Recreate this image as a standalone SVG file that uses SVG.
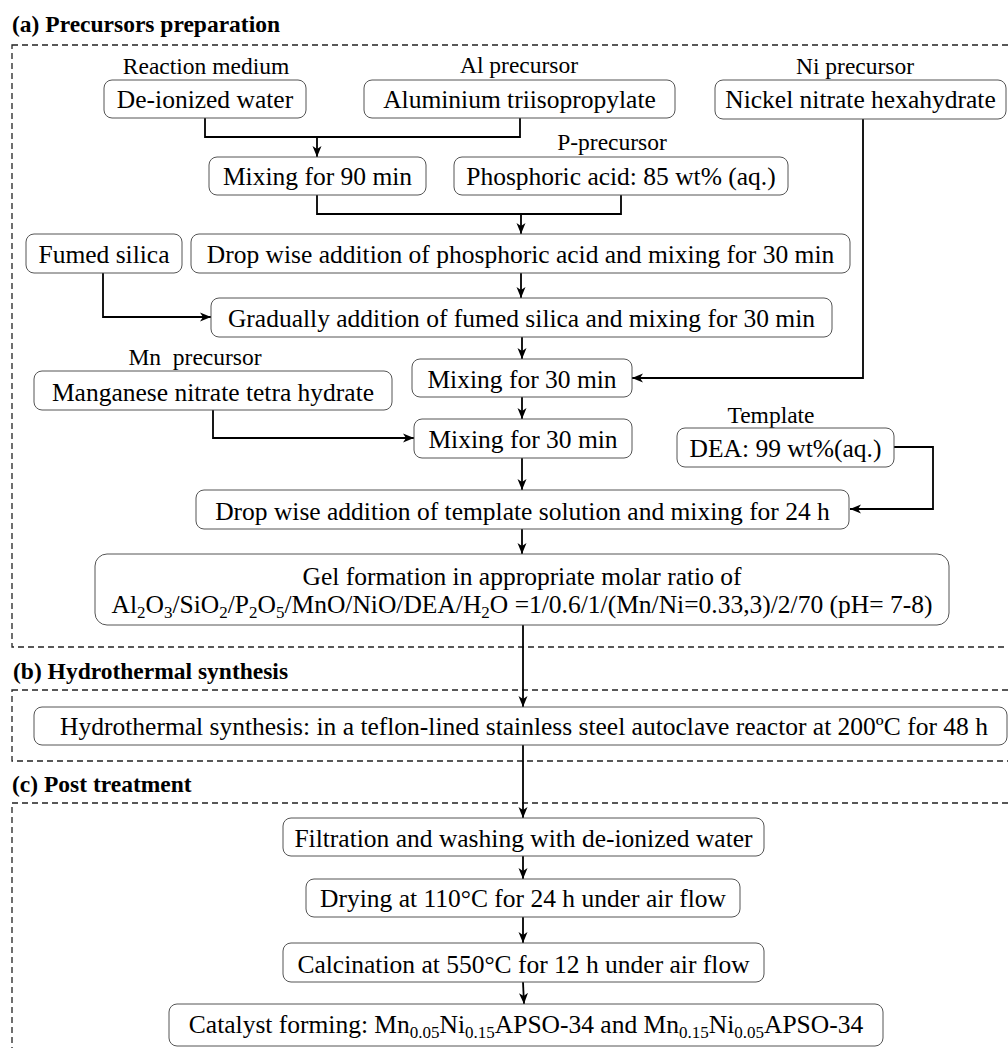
<svg xmlns="http://www.w3.org/2000/svg" width="1008" height="1048" viewBox="0 0 1008 1048">
<defs>
<marker id="ah" markerWidth="12" markerHeight="10" refX="11" refY="5" orient="auto" markerUnits="userSpaceOnUse">
<path d="M0,0.5 L11,5 L0,9.5 L3,5 z" fill="#000"/>
</marker>
<style>
.sec{fill:none;stroke:#222;stroke-width:1.3;stroke-dasharray:6,4}
.bx{fill:#fff;stroke:#555;stroke-width:1}
.t{font-family:"Liberation Serif","Times New Roman",serif;font-size:25.5px;fill:#000;text-anchor:middle}
.lb{font-family:"Liberation Serif","Times New Roman",serif;font-size:23.5px;fill:#000;text-anchor:middle}
.hd{font-family:"Liberation Serif","Times New Roman",serif;font-size:23.5px;font-weight:bold;fill:#000}
.sub{font-size:17px}
.c{fill:none;stroke:#000;stroke-width:1.8}
.ca{fill:none;stroke:#000;stroke-width:1.8;marker-end:url(#ah)}
</style>
</defs>
<rect width="1008" height="1048" fill="#fff"/>

<g id="sections">
<text class="hd" x="12" y="32">(a) Precursors preparation</text>
<rect class="sec" x="12" y="45" width="1010" height="602"/>
<text class="hd" x="13" y="679">(b) Hydrothermal synthesis</text>
<rect class="sec" x="12" y="690" width="1010" height="71"/>
<text class="hd" x="12" y="792">(c) Post treatment</text>
<rect class="sec" x="12" y="803" width="1010" height="260"/>
</g>

<g id="labels">
<text class="lb" x="206" y="74">Reaction medium</text>
<text class="lb" x="519" y="73">Al precursor</text>
<text class="lb" x="855" y="74">Ni precursor</text>
<text class="lb" x="612" y="150">P-precursor</text>
<text class="lb" x="195" y="365" xml:space="preserve">Mn  precursor</text>
<text class="lb" x="771" y="423">Template</text>
</g>

<g id="connectors">
<polyline class="c" points="205,118 205,137 520,137 520,118"/>
<line class="ca" x1="317" y1="137" x2="317" y2="157"/>
<polyline class="c" points="317,195 317,214 621,214 621,195"/>
<line class="ca" x1="521" y1="214" x2="521" y2="234"/>
<line class="ca" x1="521" y1="273" x2="521" y2="298"/>
<polyline class="ca" points="103,273 103,317 211,317"/>
<line class="ca" x1="522" y1="337" x2="522" y2="359"/>
<polyline class="ca" points="863,119 863,378 632,378"/>
<line class="ca" x1="522" y1="397" x2="522" y2="419"/>
<polyline class="ca" points="213,410 213,438 414,438"/>
<line class="ca" x1="522" y1="458" x2="522" y2="490"/>
<polyline class="ca" points="894,447 933,447 933,509 850,509"/>
<line class="ca" x1="522" y1="529" x2="522" y2="554"/>
<line class="ca" x1="523" y1="625" x2="523" y2="707"/>
<line class="ca" x1="523" y1="745" x2="523" y2="818"/>
<line class="ca" x1="523" y1="856" x2="523" y2="879"/>
<line class="ca" x1="523" y1="917" x2="523" y2="943"/>
<line class="ca" x1="523" y1="982" x2="524" y2="1004"/>
</g>

<g id="n1"><rect class="bx" x="104" y="80" width="202" height="38" rx="8"/><text class="t" x="205" y="108">De-ionized water</text></g>
<g id="n2"><rect class="bx" x="364" y="80" width="311" height="38" rx="8"/><text class="t" x="519.5" y="108">Aluminium triisopropylate</text></g>
<g id="n3"><rect class="bx" x="715" y="80" width="291" height="39" rx="8"/><text class="t" x="860.5" y="108">Nickel nitrate hexahydrate</text></g>
<g id="n4"><rect class="bx" x="209" y="157" width="217" height="38" rx="8"/><text class="t" x="317.5" y="185">Mixing for 90 min</text></g>
<g id="n5"><rect class="bx" x="454" y="157" width="334" height="38" rx="8"/><text class="t" x="621" y="185">Phosphoric acid: 85 wt% (aq.)</text></g>
<g id="n6"><rect class="bx" x="26" y="234" width="156" height="39" rx="8"/><text class="t" x="104" y="263">Fumed silica</text></g>
<g id="n7"><rect class="bx" x="191" y="234" width="659" height="39" rx="8"/><text class="t" x="520.5" y="263">Drop wise addition of phosphoric acid and mixing for 30 min</text></g>
<g id="n8"><rect class="bx" x="211" y="298" width="621" height="39" rx="8"/><text class="t" x="521.5" y="327">Gradually addition of fumed silica and mixing for 30 min</text></g>
<g id="n9"><rect class="bx" x="34" y="371" width="358" height="39" rx="8"/><text class="t" x="213" y="401">Manganese nitrate tetra hydrate</text></g>
<g id="n10"><rect class="bx" x="412" y="359" width="220" height="38" rx="8"/><text class="t" x="522" y="388">Mixing for 30 min</text></g>
<g id="n11"><rect class="bx" x="414" y="419" width="218" height="39" rx="8"/><text class="t" x="523" y="448">Mixing for 30 min</text></g>
<g id="n12"><rect class="bx" x="677" y="428" width="217" height="39" rx="8"/><text class="t" x="785.5" y="457">DEA: 99 wt%(aq.)</text></g>
<g id="n13"><rect class="bx" x="196" y="490" width="653" height="39" rx="8"/><text class="t" x="522.5" y="520">Drop wise addition of template solution and mixing for 24 h</text></g>
<g id="n14"><rect class="bx" x="95" y="554" width="854" height="71" rx="12"/>
<text class="t" x="522" y="585">Gel formation in appropriate molar ratio of</text>
<text class="t" x="522" y="613">Al<tspan class="sub" dy="5">2</tspan><tspan dy="-5">O</tspan><tspan class="sub" dy="5">3</tspan><tspan dy="-5">/SiO</tspan><tspan class="sub" dy="5">2</tspan><tspan dy="-5">/P</tspan><tspan class="sub" dy="5">2</tspan><tspan dy="-5">O</tspan><tspan class="sub" dy="5">5</tspan><tspan dy="-5">/MnO/NiO/DEA/H</tspan><tspan class="sub" dy="5">2</tspan><tspan dy="-5">O =1/0.6/1/(Mn/Ni=0.33,3)/2/70 (pH= 7-8)</tspan></text></g>
<g id="n15"><rect class="bx" x="34" y="707" width="973" height="38" rx="8"/><text class="t" x="524" y="735">Hydrothermal synthesis: in a teflon-lined stainless steel autoclave reactor at 200ºC for 48 h</text></g>
<g id="n16"><rect class="bx" x="283" y="818" width="481" height="38" rx="8"/><text class="t" x="523.5" y="847">Filtration and washing with de-ionized water</text></g>
<g id="n17"><rect class="bx" x="306" y="879" width="434" height="38" rx="8"/><text class="t" x="523" y="907">Drying at 110°C for 24 h under air flow</text></g>
<g id="n18"><rect class="bx" x="283" y="943" width="481" height="39" rx="8"/><text class="t" x="523.5" y="973">Calcination at 550°C for 12 h under air flow</text></g>
<g id="n19"><rect class="bx" x="169" y="1004" width="714" height="42" rx="8"/><text class="t" x="526" y="1033">Catalyst forming: Mn<tspan class="sub" dy="5">0.05</tspan><tspan dy="-5">Ni</tspan><tspan class="sub" dy="5">0.15</tspan><tspan dy="-5">APSO-34 and Mn</tspan><tspan class="sub" dy="5">0.15</tspan><tspan dy="-5">Ni</tspan><tspan class="sub" dy="5">0.05</tspan><tspan dy="-5">APSO-34</tspan></text></g>
</svg>
